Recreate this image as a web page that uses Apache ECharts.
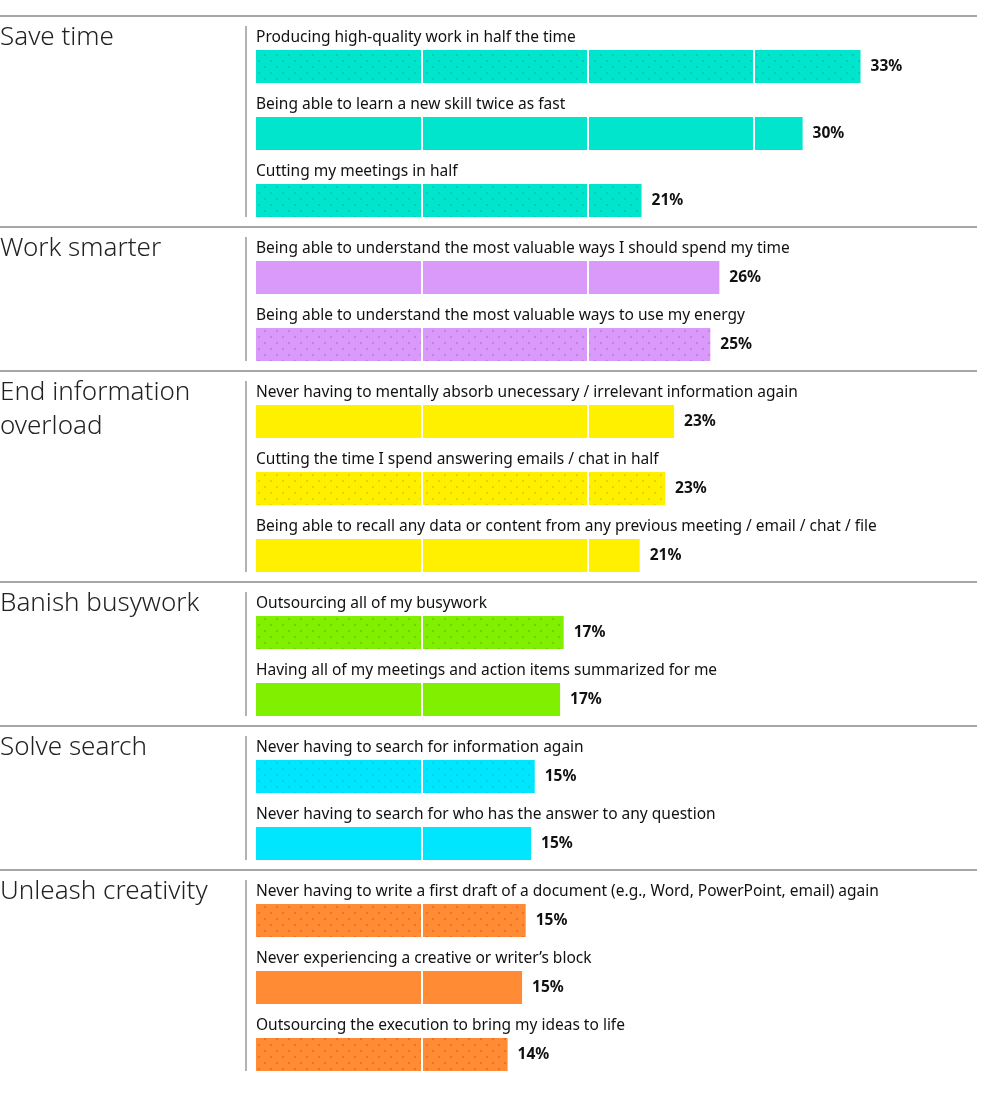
<!DOCTYPE html>
<html>
<head>
    <meta charset="utf-8">
    <style>
        html, body { margin: 0; padding: 0; background: #fff; }
        #main { width: 996px; height: 1098px; }
    </style>
    <script src="https://cdn.jsdelivr.net/npm/echarts@6/dist/echarts.min.js"></script>
</head>
<body>
    <div id="main"></div>
    <script type="text/javascript">
        // data (bar length in %)
        var groupTitles = ['Save time', 'Work smarter', 'End information\noverload',
            'Banish busywork', 'Solve search', 'Unleash creativity'];
        var itemGroups = [0, 0, 0, 1, 1, 2, 2, 2, 3, 3, 4, 4, 5, 5, 5];
        var itemNames = [
            'Producing high-quality work in half the time',
            'Being able to learn a new skill twice as fast',
            'Cutting my meetings in half',
            'Being able to understand the most valuable ways I should spend my time',
            'Being able to understand the most valuable ways to use my energy',
            'Never having to mentally absorb unecessary / irrelevant information again',
            'Cutting the time I spend answering emails / chat in half',
            'Being able to recall any data or content from any previous meeting / email / chat / file',
            'Outsourcing all of my busywork',
            'Having all of my meetings and action items summarized for me',
            'Never having to search for information again',
            'Never having to search for who has the answer to any question',
            'Never having to write a first draft of a document (e.g., Word, PowerPoint, email) again',
            'Never experiencing a creative or writer\u2019s block',
            'Outsourcing the execution to bring my ideas to life'
        ];
        var itemValues = [33.4, 30.2, 21.3, 25.6, 25.1, 23.1, 22.6, 21.2, 17.0, 16.8, 15.4, 15.2, 14.9, 14.7, 13.9];

        // styles
        var groupColors = ['#00E5CC', '#DA9AFA', '#FFF000', '#80F000', '#00E6FF', '#FF8C34'];
        var dotColors = ['rgba(0,140,125,0.25)', 'rgba(170,80,225,0.4)', 'rgba(245,160,0,0.5)',
            'rgba(60,160,0,0.35)', 'rgba(0,150,210,0.25)', 'rgba(235,70,20,0.45)'];
        var FONT = '"Segoe UI", "Noto Sans", "Open Sans", sans-serif';
        var PITCH = 67, BAR_H = 33, GAP = 10, LEFT = 256, TOP0 = 33;
        var PX_PER = 18.1, X_MAX = 40;
        var GRID_STEP = 166 / PX_PER;

        var myChart = echarts.init(document.getElementById('main'));

        var grids = [], xAxes = [], yAxes = [], series = [], titles = [], graphics = [];
        var gridTop = TOP0;
        groupTitles.forEach(function (title, g) {
            var names = [], data = [];
            itemNames.forEach(function (n, i) {
                if (itemGroups[i] !== g) return;
                names.push(n);
                var style = { color: groupColors[g] };
                if (i % 2 === 0) {
                    style.decal = {
                        symbol: 'rect',
                        symbolSize: 1,
                        color: dotColors[g],
                        dashArrayX: [[2, 10], [0, 6, 2, 4]],
                        dashArrayY: [2, 4],
                        rotation: 0
                    };
                }
                data.push({ value: itemValues[i], itemStyle: style });
            });
            var h = names.length * PITCH;
            grids.push({ left: LEFT, top: gridTop, height: h, width: X_MAX * PX_PER });
            xAxes.push({
                type: 'value', gridIndex: g, min: 0, max: X_MAX, interval: GRID_STEP, z: 3,
                axisLabel: { show: false }, axisLine: { show: false }, axisTick: { show: false },
                splitLine: { show: true, showMinLine: false, lineStyle: { color: '#fff', width: 2 } }
            });
            yAxes.push({
                type: 'category', gridIndex: g, data: names, inverse: true,
                axisLabel: { show: false }, axisLine: { show: false }, axisTick: { show: false }
            });
            series.push({
                type: 'bar', xAxisIndex: g, yAxisIndex: g, barWidth: BAR_H, barGap: '-100%',
                silent: true, z: 2, data: data
            });
            // item names above the bars
            series.push({
                type: 'bar', xAxisIndex: g, yAxisIndex: g, barWidth: BAR_H, barGap: '-100%',
                silent: true, z: 5, itemStyle: { color: 'transparent' },
                data: data.map(function (d) { return d.value; }),
                label: {
                    show: true, position: [0, -12.5], align: 'left', verticalAlign: 'middle',
                    formatter: function (p) { return p.name; },
                    fontFamily: FONT, fontSize: 15.5, color: '#111'
                }
            });
            // percent labels, kept above the white split lines
            series.push({
                type: 'bar', xAxisIndex: g, yAxisIndex: g, barWidth: BAR_H, barGap: '-100%',
                silent: true, z: 5, itemStyle: { color: 'transparent' },
                data: data.map(function (d) { return d.value; }),
                label: {
                    show: true, position: 'right', distance: 10,
                    formatter: function (p) { return Math.round(p.value) + '%'; },
                    fontFamily: FONT, fontSize: 15.5, fontWeight: 'bold', color: '#111'
                }
            });

            var sep = gridTop - 17;
            titles.push({
                text: title, left: 0, top: sep + 5, padding: 0,
                textStyle: { fontFamily: FONT, fontSize: 26, fontWeight: 300, lineHeight: 34, color: '#222' }
            });
            graphics.push({
                type: 'line', silent: true, z: 10,
                shape: { x1: 0, y1: sep, x2: 977, y2: sep },
                style: { stroke: '#888', lineWidth: 1.3 }
            });
            graphics.push({
                type: 'line', silent: true, z: 10,
                shape: { x1: 246, y1: sep + 10, x2: 246, y2: gridTop + h - 17 },
                style: { stroke: '#666', lineWidth: 1 }
            });
            gridTop += h + GAP;
        });

        var option = {
            backgroundColor: '#fff',
            animation: false,
            title: titles,
            grid: grids,
            xAxis: xAxes,
            yAxis: yAxes,
            series: series,
            graphic: graphics
        };
        myChart.setOption(option);
    </script>
</body>
</html>
